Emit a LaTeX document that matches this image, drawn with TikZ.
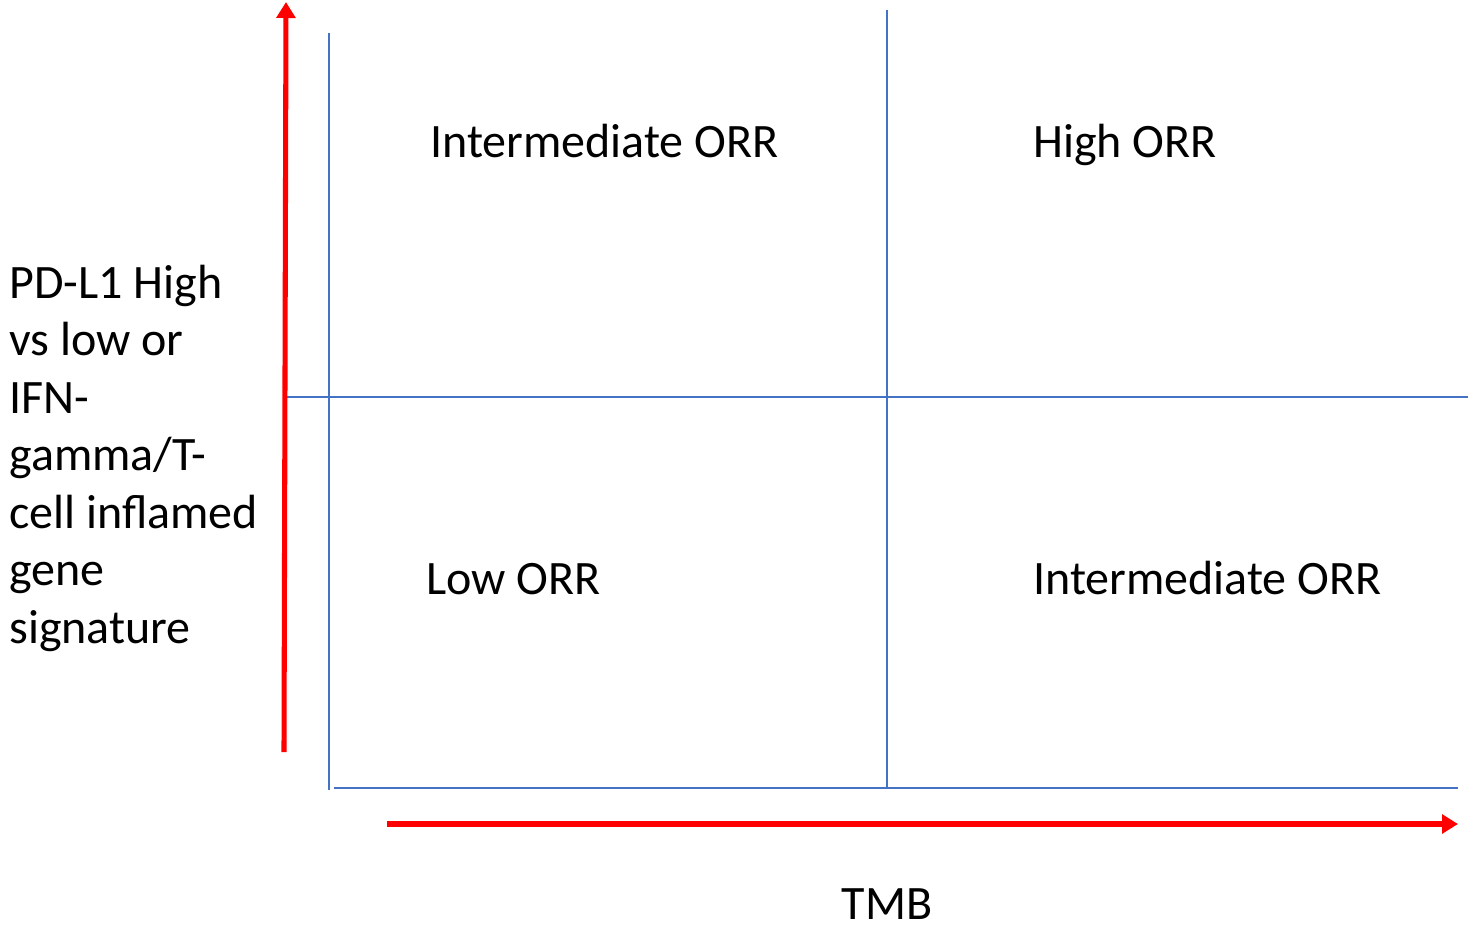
\documentclass[tikz,border=0pt]{standalone}
\usepackage{fontspec}
\setmainfont{Carlito}
\usetikzlibrary{arrows.meta,positioning,calc}
\definecolor{gridBlue}{RGB}{68,114,196}
\tikzstyle{quadLabel}=[inner sep=0pt,anchor=base west,font=\fontsize{36}{43.1}\selectfont]
\tikzstyle{axisArrow}=[draw=red,line width=3.8pt,-{Triangle[width=14pt,length=12pt]}]
\tikzstyle{gridLine} =[draw=gridBlue,line width=0.9pt]

\begin{document}
\begin{tikzpicture}[x=0.75pt,y=-0.75pt]
\useasboundingbox (0,0) rectangle (1468,926);
% grid
\coordinate (gl1) at (329,33);  \coordinate (gl2) at (329,790);
\coordinate (gm1) at (887,10);  \coordinate (gm2) at (887,788);
\coordinate (hm1) at (287,397); \coordinate (hm2) at (1468,397);
\coordinate (hb1) at (334,788); \coordinate (hb2) at (1458,788);
\path [gridLine] (gl1) -- (gl2);
\path [gridLine] (gm1) -- (gm2);
\path [gridLine] (hm1) -- (hm2);
\path [gridLine] (hb1) -- (hb2);
% axes
\coordinate (yFoot) at (284,752); \coordinate (yTip) at (286,2);
\coordinate (xFoot) at (387,824); \coordinate (xTip) at (1458,824);
\path [axisArrow] (yFoot) -- (yTip);
\path [axisArrow] (xFoot) -- (xTip);
% quadrant labels
\node [quadLabel] (topLeft)  at (430,157) {Intermediate ORR};
\node [quadLabel] (topRight) at (1033,157) {High ORR};
\node [quadLabel] (botLeft)  at (426,594) {Low ORR};
\node [quadLabel] (botRight) at (1033,594) {Intermediate ORR};
% axis titles
\node [quadLabel,anchor=base] (xTitle) at (887,919) {TMB};
\node [quadLabel,align=left] (yTitle) at (9,643)
  {PD-L1 High\\vs low or\\IFN-\\gamma/T-\\cell inflamed\\gene\\signature};
\end{tikzpicture}
\end{document}
